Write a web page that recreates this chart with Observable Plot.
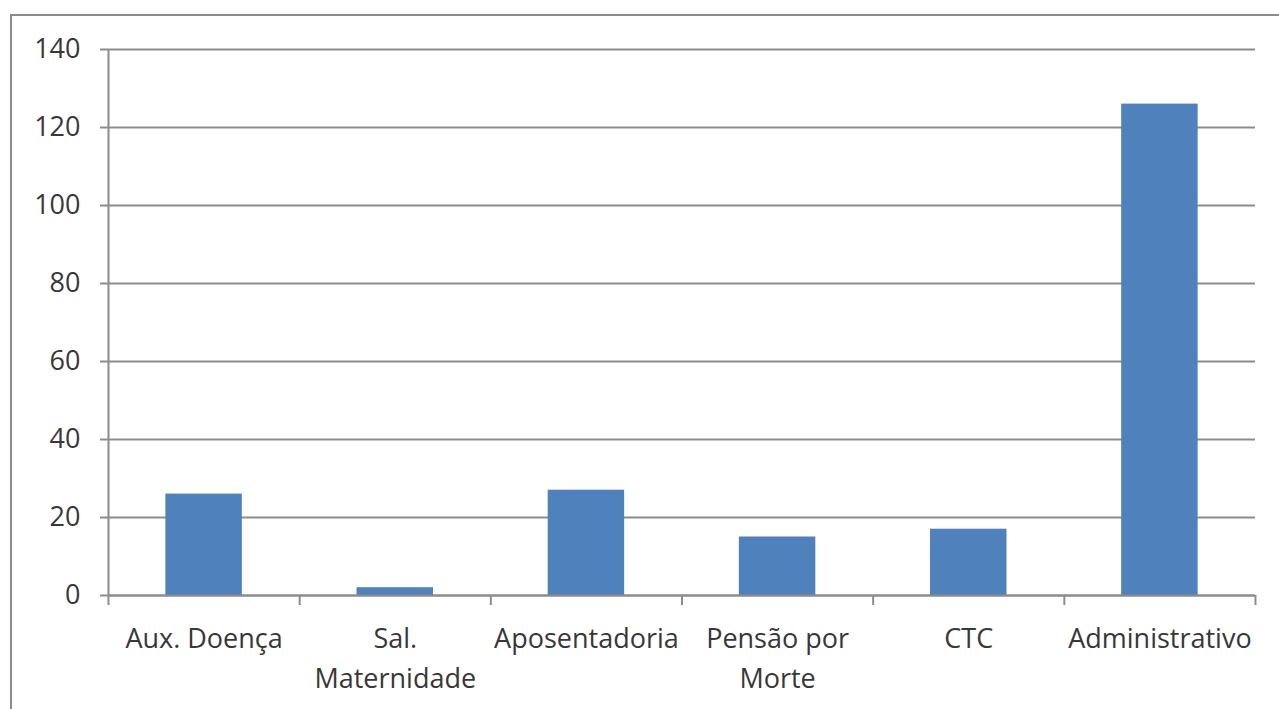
<!DOCTYPE html>
<html><head><meta charset="utf-8">
<script src="https://cdn.jsdelivr.net/npm/d3@7"></script>
<script src="https://cdn.jsdelivr.net/npm/@observablehq/plot@0.6"></script>
<style>
body{margin:0;background:#fff;}
#wrap{position:relative;width:1279px;height:709px;overflow:hidden;}
#frame{position:absolute;left:10px;top:14px;width:1400px;height:900px;border:2px solid #8c8c8c;box-sizing:border-box;}
#chart{position:absolute;left:0;top:0;}
</style></head><body>
<div id="wrap"><div id="frame"></div><div id="chart"></div></div>
<script>
const categories = ["Aux. Doença", "Sal.\nMaternidade", "Aposentadoria", "Pensão por\nMorte", "CTC", "Administrativo"];
const values = [26, 2, 27, 15, 17, 126];
const yTicks = [0, 20, 40, 60, 80, 100, 120, 140];

const n = categories.length;
const data = categories.map((c, i) => ({i, category: c, value: values[i]}));
const grid = "#8c8c8c";
const FONT = "Open Sans";
const FS = 27;
const TXT = "#383838";

const chart = Plot.plot({
  width: 1279, height: 709,
  marginLeft: 108, marginRight: 24, marginTop: 49, marginBottom: 114,
  style: {fontFamily: FONT, fontSize: FS + "px", color: TXT, background: "transparent", overflow: "visible"},
  x: {domain: [0, n], axis: null},
  y: {domain: [0, 140], axis: null},
  marks: [
    Plot.ruleY(yTicks, {stroke: grid, strokeWidth: 2}),
    Plot.axisY({ticks: yTicks, tickSize: 8, tickPadding: 20, stroke: grid, strokeWidth: 2, strokeOpacity: 1, label: null, fill: TXT, fontSize: FS}),
    Plot.ruleX([0], {stroke: grid, strokeWidth: 2}),
    Plot.rectY(data, {x1: d => d.i + 0.3, x2: d => d.i + 0.7, y: "value", fill: "#4f81bd"}),
    Plot.ruleY([0], {stroke: grid, strokeWidth: 2}),
    Plot.axisX({ticks: d3.range(n + 1), tickFormat: () => "", tickSize: 10, stroke: grid, strokeWidth: 2, strokeOpacity: 1, label: null}),
    Plot.axisX({ticks: data.map(d => d.i + 0.5), tickFormat: v => categories[Math.round(v - 0.5)], tickSize: 0, tickPadding: 24, lineHeight: 1.48, label: null, fill: TXT, fontSize: FS})
  ]
});
document.getElementById("chart").appendChild(chart);
</script>
</body></html>
